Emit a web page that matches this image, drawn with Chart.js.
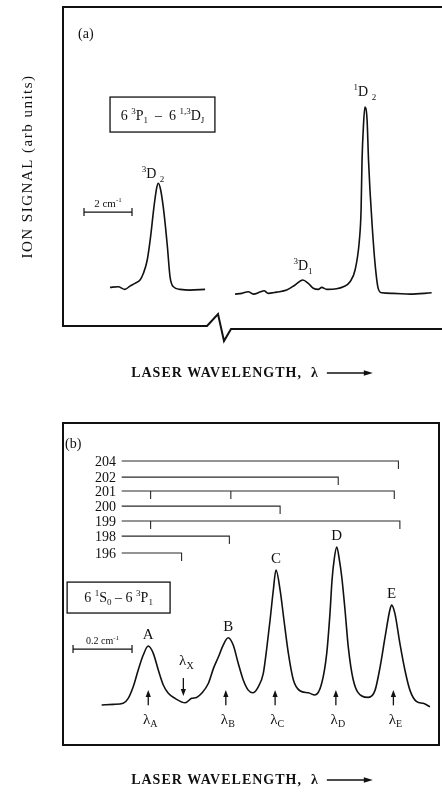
<!DOCTYPE html>
<html>
<head>
<meta charset="utf-8">
<script src="https://cdn.jsdelivr.net/npm/chart.js@4.4.1/dist/chart.umd.min.js"></script>
<style>
  body { margin: 0; background: #fff; }
  canvas { position: absolute; left: 0; }
</style>
</head>
<body>
<canvas id="chartA" width="442" height="400" style="top:0"></canvas>
<canvas id="chartB" width="442" height="397" style="top:400px"></canvas>
<script>
// panel (a): 6 3P1 - 6 1,3DJ scan, x in cm-1 (relative), y arb units
const waveA1 = [1.96, 2.30, 2.58, 2.79, 3.00, 3.21, 3.35, 3.51, 3.65, 3.79, 3.90, 3.97, 4.07, 4.21, 4.35, 4.46, 4.60, 4.88, 5.29, 5.92];
const signalA1 = [1.2, 1.5, 0.1, 1.9, 3.4, 5.2, 8.9, 16.2, 29.0, 45.4, 55.5, 58.3, 54.6, 41.8, 23.5, 7.0, 1.5, 0.1, -0.3, 0.1];
const waveA2 = [7.17, 7.45, 7.72, 7.93, 8.21, 8.38, 8.55, 8.90, 9.32, 9.67, 9.99, 10.22, 10.43, 10.64, 10.78, 10.99, 11.40, 11.68, 11.96, 12.17,
  12.35, 12.42, 12.46, 12.52, 12.58, 12.67, 12.73, 12.79, 12.88, 13.00, 13.13, 13.28, 13.76, 14.46, 15.36];
const signalA2 = [-2.5, -2.1, -1.2, -2.5, -1.4, -0.7, -2.1, -1.4, -0.3, 2.5, 5.2, 3.4, 0.7, 0.1, 1.2, 0.1, 0.4, 1.5, 4.3, 10.7,
  27.2, 43.6, 71.0, 90.2, 100.1, 93.0, 71.0, 54.6, 35.4, 14.5, 0.8, -1.8, -2.1, -2.5, -1.8];

// panel (b): 6 1S0 - 6 3P1 scan
const waveB = [0.131, 0.171, 0.204, 0.221, 0.238, 0.255, 0.272, 0.289, 0.306, 0.323, 0.340, 0.357, 0.380, 0.414, 0.436, 0.453, 0.470, 0.493, 0.510, 0.527,
  0.543, 0.560, 0.577, 0.594, 0.611, 0.628, 0.643, 0.662, 0.679, 0.690, 0.702, 0.713, 0.722, 0.736, 0.749, 0.764, 0.781, 0.803, 0.832, 0.854,
  0.877, 0.894, 0.905, 0.912, 0.919, 0.928, 0.937, 0.945, 0.956, 0.967, 0.984, 1.013, 1.035, 1.058, 1.075, 1.092, 1.108, 1.114, 1.125, 1.142,
  1.159, 1.176, 1.199, 1.221, 1.244];
const signalB = [0.2, 0.6, 1.3, 4.4, 11.7, 22.3, 31.7, 37.4, 32.8, 22.3, 12.8, 7.6, 4.4, 1.6, 4.4, 5.0, 7.6, 13.9, 23.3, 30.6,
  38.0, 42.6, 38.0, 26.5, 16.0, 9.6, 7.9, 11.7, 20.2, 34.9, 53.8, 72.7, 85.3, 72.7, 53.8, 32.8, 16.0, 9.2, 7.9, 6.5,
  13.9, 32.8, 58.0, 79.0, 91.6, 99.8, 91.6, 80.9, 60.1, 36.9, 16.0, 5.9, 5.0, 9.6, 24.3, 43.3, 60.1, 63.2, 58.0, 39.1,
  22.3, 9.6, 2.3, 1.3, -0.9];

const peakLetters = ['A', 'B', 'C', 'D', 'E'];
const peakWaveB = [0.289, 0.560, 0.722, 0.928, 1.114];
const peakSignalB = [37.4, 42.6, 85.3, 99.8, 63.2];
const lambdaWaveB = [0.289, 0.552, 0.719, 0.925, 1.120];
const lambdaXWave = 0.408;

// isotope comb above panel (b)
const isotopes = ['204', '202', '201', '200', '199', '198', '196'];
const isotopeLevel = [154.0, 143.9, 135.1, 125.6, 116.2, 106.7, 96.0];
const isotopeTicks = [[1.137], [0.933], [0.297, 0.569, 1.123], [0.736], [0.297, 1.142], [0.564], [0.402]];
const combStart = 0.199;

const SERIF = '"Liberation Serif", "DejaVu Serif", serif';
const INK = '#111';

const toPoints = (xs, ys) => xs.map((x, i) => ({ x: x, y: ys[i] }));

function richText(ctx, parts, x, y, size, align, weight) {
  // parts: [text, shift]  shift 1 = superscript, -1 = subscript
  const w0 = weight || 'normal';
  const fontFor = (s) => w0 + ' ' + (s ? Math.round(size * 0.66) : size) + 'px ' + SERIF;
  let w = 0;
  parts.forEach(([t, s]) => { ctx.font = fontFor(s); w += ctx.measureText(t).width; });
  let cx = align === 'center' ? x - w / 2 : align === 'right' ? x - w : x;
  ctx.textAlign = 'left';
  ctx.textBaseline = 'alphabetic';
  parts.forEach(([t, s]) => {
    ctx.font = fontFor(s);
    const dy = s === 1 ? -size * 0.42 : s === -1 ? size * 0.25 : 0;
    ctx.fillText(t, cx, y + dy);
    cx += ctx.measureText(t).width;
  });
  return w;
}

function vArrow(ctx, x, y0, y1, head) {
  const d = Math.sign(y1 - y0);
  ctx.beginPath();
  ctx.moveTo(x, y0);
  ctx.lineTo(x, y1 - d * head * 0.6);
  ctx.stroke();
  ctx.beginPath();
  ctx.moveTo(x, y1);
  ctx.lineTo(x - 2.6, y1 - d * head);
  ctx.lineTo(x + 2.6, y1 - d * head);
  ctx.closePath();
  ctx.fill();
}

function wavelengthTitle(ctx, cx, y) {
  ctx.save();
  ctx.fillStyle = INK;
  ctx.strokeStyle = INK;
  ctx.font = 'bold 14px ' + SERIF;
  ctx.letterSpacing = '1px';
  const txt = 'LASER WAVELENGTH,  λ';
  const tw = ctx.measureText(txt).width;
  const arrowLen = 46;
  const x0 = cx - (tw + 8 + arrowLen) / 2;
  ctx.textAlign = 'left';
  ctx.textBaseline = 'middle';
  ctx.fillText(txt, x0, y);
  const ax = x0 + tw + 8;
  ctx.lineWidth = 1.3;
  ctx.beginPath();
  ctx.moveTo(ax, y);
  ctx.lineTo(ax + arrowLen - 6, y);
  ctx.stroke();
  ctx.beginPath();
  ctx.moveTo(ax + arrowLen, y);
  ctx.lineTo(ax + arrowLen - 9, y - 2.8);
  ctx.lineTo(ax + arrowLen - 9, y + 2.8);
  ctx.closePath();
  ctx.fill();
  ctx.restore();
}

function scaleBar(ctx, x0, x1, y) {
  ctx.beginPath();
  ctx.moveTo(x0, y - 4); ctx.lineTo(x0, y + 4);
  ctx.moveTo(x0, y); ctx.lineTo(x1, y);
  ctx.moveTo(x1, y - 4); ctx.lineTo(x1, y + 4);
  ctx.stroke();
}

const decorA = {
  id: 'decorA',
  afterDraw(chart) {
    const { ctx, chartArea: a, scales: { x, y } } = chart;
    ctx.save();
    ctx.strokeStyle = INK;
    ctx.fillStyle = INK;

    // frame with break in the wavelength axis
    const bx = x.getPixelForValue(6.0);
    ctx.lineWidth = 2;
    ctx.beginPath();
    ctx.moveTo(chart.width, a.top);
    ctx.lineTo(a.left, a.top);
    ctx.lineTo(a.left, a.bottom);
    ctx.lineTo(bx, a.bottom);
    ctx.lineTo(bx + 11, a.bottom - 12);
    ctx.lineTo(bx + 17, a.bottom + 15);
    ctx.lineTo(bx + 24, a.bottom + 3);
    ctx.lineTo(chart.width, a.bottom + 3);
    ctx.stroke();

    ctx.font = '14px ' + SERIF;
    ctx.textAlign = 'left';
    ctx.textBaseline = 'alphabetic';
    ctx.fillText('(a)', 78, 38);

    // transition box
    const bl = x.getPixelForValue(1.96), br = x.getPixelForValue(6.33);
    const bt = y.getPixelForValue(105.6), bb = y.getPixelForValue(86.4);
    ctx.lineWidth = 1.3;
    ctx.strokeRect(bl, bt, br - bl, bb - bt);
    richText(ctx, [['6 ', 0], ['3', 1], ['P', 0], ['1', -1], ['  –  6 ', 0], ['1,3', 1], ['D', 0], ['J', -1]],
      (bl + br) / 2, (bt + bb) / 2 + 5, 14, 'center');

    // level labels
    richText(ctx, [['3', 1], ['D ', 0], ['2', -1]], x.getPixelForValue(3.75), y.getPixelForValue(58.3) - 5, 14, 'center');
    richText(ctx, [['1', 1], ['D ', 0], ['2', -1]], x.getPixelForValue(12.58), y.getPixelForValue(100.1) - 11, 14, 'center');
    richText(ctx, [['3', 1], ['D', 0], ['1', -1]], x.getPixelForValue(10.0), y.getPixelForValue(5.2) - 10, 14, 'center');

    // 2 cm-1 scale bar
    const s0 = x.getPixelForValue(0.875), s1 = x.getPixelForValue(2.875), sy = y.getPixelForValue(42.5);
    ctx.lineWidth = 1.2;
    scaleBar(ctx, s0, s1, sy);
    richText(ctx, [['2 cm', 0], ['-1', 1]], (s0 + s1) / 2, sy - 5, 11, 'center');

    // y title
    ctx.save();
    ctx.translate(28, (a.top + a.bottom) / 2);
    ctx.rotate(-Math.PI / 2);
    ctx.font = '15px ' + SERIF;
    ctx.letterSpacing = '1.5px';
    ctx.textAlign = 'center';
    ctx.textBaseline = 'middle';
    ctx.fillText('ION SIGNAL (arb units)', 0, 0);
    ctx.restore();

    wavelengthTitle(ctx, 252, 373);
    ctx.restore();
  }
};

const decorB = {
  id: 'decorB',
  afterDraw(chart) {
    const { ctx, chartArea: a, scales: { x, y } } = chart;
    ctx.save();
    ctx.strokeStyle = INK;
    ctx.fillStyle = INK;
    ctx.lineWidth = 2;
    ctx.strokeRect(a.left, a.top, a.right - a.left, a.bottom - a.top);

    ctx.font = '14px ' + SERIF;
    ctx.textAlign = 'left';
    ctx.textBaseline = 'alphabetic';
    ctx.fillText('(b)', 65, 48);

    // isotope numbers
    ctx.font = '14px ' + SERIF;
    ctx.textAlign = 'right';
    ctx.textBaseline = 'middle';
    isotopes.forEach((iso, i) => ctx.fillText(iso, 116, y.getPixelForValue(isotopeLevel[i]) + 1));

    // transition box
    const bl = x.getPixelForValue(0.014), br = x.getPixelForValue(0.363);
    const bt = y.getPixelForValue(77.7), bb = y.getPixelForValue(58.2);
    ctx.lineWidth = 1.3;
    ctx.strokeRect(bl, bt, br - bl, bb - bt);
    richText(ctx, [['6 ', 0], ['1', 1], ['S', 0], ['0', -1], [' – 6 ', 0], ['3', 1], ['P', 0], ['1', -1]],
      (bl + br) / 2, (bt + bb) / 2 + 4, 14, 'center');

    // 0.2 cm-1 scale bar
    const s0 = x.getPixelForValue(0.034), s1 = x.getPixelForValue(0.234), sy = y.getPixelForValue(35.5);
    ctx.lineWidth = 1.2;
    scaleBar(ctx, s0, s1, sy);
    richText(ctx, [['0.2 cm', 0], ['-1', 1]], (s0 + s1) / 2, sy - 5, 10, 'center');

    // peak letters
    ctx.font = '15px ' + SERIF;
    ctx.textAlign = 'center';
    ctx.textBaseline = 'alphabetic';
    peakLetters.forEach((p, i) => {
      ctx.fillText(p, x.getPixelForValue(peakWaveB[i]), y.getPixelForValue(peakSignalB[i]) - 7);
    });

    // lambda arrows
    ctx.lineWidth = 1.3;
    lambdaWaveB.forEach((w, i) => {
      const px = x.getPixelForValue(w);
      vArrow(ctx, px, y.getPixelForValue(0), y.getPixelForValue(9.6), 7);
      richText(ctx, [['λ', 0], [peakLetters[i], -1]], px + 2, y.getPixelForValue(-11.5), 15, 'center');
    });
    const lx = x.getPixelForValue(lambdaXWave);
    vArrow(ctx, lx, y.getPixelForValue(17.2), y.getPixelForValue(5.9), 7);
    richText(ctx, [['λ', 0], ['X', -1]], lx + 3, y.getPixelForValue(25.5), 15, 'center');

    wavelengthTitle(ctx, 252, 380);
    ctx.restore();
  }
};

const lineStyle = { borderColor: INK, borderWidth: 1.6, pointRadius: 0, cubicInterpolationMode: 'monotone', fill: false };

new Chart(document.getElementById('chartA'), {
  type: 'line',
  data: {
    datasets: [
      { ...lineStyle, data: toPoints(waveA1, signalA1) },
      { ...lineStyle, data: toPoints(waveA2, signalA2) },
    ],
  },
  options: {
    responsive: false,
    animation: false,
    events: [],
    layout: { padding: { left: 63, right: 1, top: 7, bottom: 74 } },
    plugins: { legend: { display: false }, tooltip: { enabled: false } },
    scales: {
      x: { type: 'linear', display: false, min: 0, max: 15.75 },
      y: { display: false, min: -20, max: 155 },
    },
  },
  plugins: [decorA],
});

// comb lines: run from the start, drop a short tick at each member position
const combSets = isotopes.map((iso, i) => {
  const lvl = isotopeLevel[i];
  const pts = [{ x: combStart, y: lvl }];
  isotopeTicks[i].forEach((t, k) => {
    pts.push({ x: t, y: lvl }, { x: t, y: lvl - 5 });
    if (k < isotopeTicks[i].length - 1) pts.push({ x: t, y: lvl });
  });
  return { data: pts, borderColor: '#2a2a2a', borderWidth: 1.1, pointRadius: 0, tension: 0, fill: false };
});

new Chart(document.getElementById('chartB'), {
  type: 'line',
  data: {
    datasets: [
      { ...lineStyle, data: toPoints(waveB, signalB) },
      ...combSets,
    ],
  },
  options: {
    responsive: false,
    animation: false,
    events: [],
    layout: { padding: { left: 63, right: 3, top: 23, bottom: 52 } },
    plugins: { legend: { display: false }, tooltip: { enabled: false } },
    scales: {
      x: { type: 'linear', display: false, min: 0, max: 1.2746 },
      y: { display: false, min: -25, max: 178 },
    },
  },
  plugins: [decorB],
});
</script>
</body>
</html>
